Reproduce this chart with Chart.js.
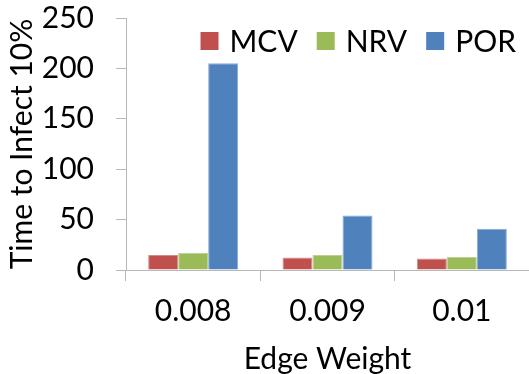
<!doctype html>
<html lang="en">
  <head>
    <meta charset="utf-8">
    <title>Time to Infect 10%</title>
    <style>
      html, body { margin: 0; padding: 0; background: #fff; }
      #wrap { position: relative; width: 529px; height: 374px; }
    </style>
  </head>
  <body>
    <div id="wrap">
      <canvas id="myChart"></canvas>
    </div>
    <script src="https://cdn.jsdelivr.net/npm/chart.js"></script>
    <script>
    // data
    const categories = ['0.008', '0.009', '0.01'];
    const mcv = [15, 12.5, 11.5];
    const nrv = [17, 15, 13];
    const por = [205, 54, 41];
    const yTicks = [0, 50, 100, 150, 200, 250];

    const font = 'Lato';
    const fsize = 30;
    const grey = '#b8b8b8';

    // legend drawn inside the plot area, top right, in one row
    const innerLegend = {
        id: 'innerLegend',
        afterDraw(chart) {
            const c = chart.ctx;
            const area = chart.chartArea;
            const box = 18, gap = 11, itemGap = 19;
            c.save();
            c.font = fsize + 'px ' + font;
            c.textBaseline = 'middle';
            const items = chart.data.datasets.map(ds => ({
                text: ds.label, color: ds.backgroundColor, w: c.measureText(ds.label).width
            }));
            let total = 0;
            items.forEach((it, i) => { total += box + gap + it.w + (i ? itemGap : 0); });
            let x = area.right - 13 - total;
            const cy = area.top + 23;
            items.forEach(it => {
                c.fillStyle = it.color;
                c.fillRect(x, cy - box / 2, box, box);
                c.fillStyle = '#000';
                c.fillText(it.text, x + box + gap, cy + 1);
                x += box + gap + it.w + itemGap;
            });
            c.restore();
        }
    };

    const ctx = document.getElementById('myChart');

    var chart = new Chart(ctx, {
        type: 'bar',
        data: {
            labels: categories,
            datasets: [
                {   label: 'MCV',
                    data: mcv,
                    backgroundColor: '#C0504D',
                    borderColor: '#d08a88',
                    borderWidth: 1
                },
                {   label: 'NRV',
                    data: nrv,
                    backgroundColor: '#9BBB59',
                    borderColor: '#bcd18f',
                    borderWidth: 1
                },
                {   label: 'POR',
                    data: por,
                    backgroundColor: '#4F81BD',
                    borderColor: '#8aa9d3',
                    borderWidth: 1
                }]
        },
        options: {
            responsive: true,
            maintainAspectRatio: false,
            animation: false,
            devicePixelRatio: 1,
            layout: {
                padding: { left: 4, right: 0, top: 2, bottom: 0 }
            },
            datasets: {
                bar: {
                    categoryPercentage: 0.67,
                    barPercentage: 1.0
                }
            },
            plugins: {
                tooltip: { enabled: false },
                legend: { display: false }
            },
            scales: {
                x: {
                    afterFit: (scale) => { scale.height = 104; },
                    grid: {
                        offset: true,
                        drawOnChartArea: false,
                        drawTicks: true,
                        tickLength: 11,
                        color: grey
                    },
                    border: { color: grey, width: 1 },
                    ticks: {
                        color: '#000',
                        padding: 12,
                        font: { family: font, size: fsize }
                    },
                    title: {
                        display: true,
                        text: 'Edge Weight',
                        color: '#000',
                        padding: { top: 0, bottom: -3 },
                        font: { family: font, size: fsize }
                    }
                },
                y: {
                    min: 0,
                    max: 250,
                    afterBuildTicks: (axis) => {
                        axis.ticks = yTicks.map(v => ({ value: v }));
                    },
                    afterFit: (scale) => {
                        scale.width = 122;
                        scale.paddingTop = 18;
                        scale.paddingBottom = 18;
                    },
                    grid: {
                        drawOnChartArea: false,
                        drawTicks: true,
                        tickLength: 10,
                        color: grey
                    },
                    border: { color: grey, width: 1 },
                    ticks: {
                        color: '#000',
                        padding: 22,
                        font: { family: font, size: fsize }
                    },
                    title: {
                        display: true,
                        text: 'Time to Infect 10%',
                        color: '#000',
                        padding: { top: 0, bottom: 4 },
                        font: { family: font, size: fsize }
                    }
                }
            }
        },
        plugins: [innerLegend]
    });
    </script>
  </body>
</html>
